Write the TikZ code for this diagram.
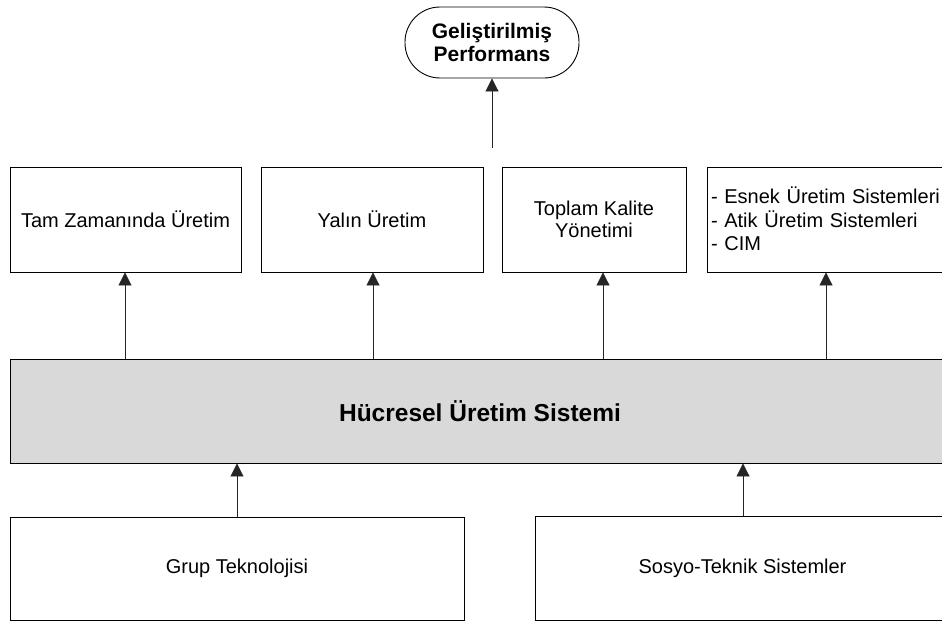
\documentclass[tikz,border=0pt]{standalone}
\usepackage{fontspec}
\setmainfont{Liberation Sans}
\usetikzlibrary{arrows.meta}
\begin{document}
\begin{tikzpicture}[x=1pt,y=-1pt,
  box/.style={draw=black,line width=0.9pt,rectangle,inner sep=0pt,
    font=\fontsize{20}{23}\selectfont,align=center},
  arr/.style={draw=black!85,line width=0.9pt,-{Triangle[length=13pt,width=13pt]}},
  goal/.style={draw=black,line width=0.9pt,rectangle,rounded corners=35pt,
    inner sep=0pt,minimum width=174pt,minimum height=71pt,
    font=\fontsize{21}{23}\selectfont\bfseries,align=center}]
\clip (0,0) rectangle (942,621);
\fill[white] (0,0) rectangle (942,621);

% result
\node[goal] (perf) at (492,42.5) {Geliştirilmiş\\Performans};
\coordinate (perfsrc) at (492,148);

% approaches fed by cellular manufacturing
\node[box,minimum width=231pt,minimum height=105pt] (jit) at (125.5,219.5)
  {\raisebox{-7.5pt}[0pt][0pt]{Tam Zamanında Üretim}};
\node[box,minimum width=222pt,minimum height=105pt] (lean) at (372,219.5)
  {\raisebox{-7.5pt}[0pt][0pt]{Yalın Üretim}};
\node[box,minimum width=184pt,minimum height=105pt] (tqm) at (594,219.5)
  {\raisebox{-7.5pt}[0pt][0pt]{\begin{tabular}{@{}c@{}}Toplam Kalite\\[-1pt]Yönetimi\end{tabular}}};
\node[box,minimum width=243pt,minimum height=105pt,text width=235pt,align=left] (fms) at (828.5,219.5)
  {\raisebox{-7.5pt}[0pt][0pt]{\begin{tabular}{@{}l@{}}- Esnek Üretim Sistemleri\\- Atik Üretim Sistemleri\\- CIM\end{tabular}}};

% central system
\node[box,fill=black!15,minimum width=940pt,minimum height=104pt,
  font=\fontsize{24.5}{28}\selectfont\bfseries] (cms) at (480,411) {Hücresel Üretim Sistemi};

% foundations
\node[box,minimum width=454pt,minimum height=103pt] (gt) at (237,568.5) {Grup Teknolojisi};
\node[box,minimum width=415pt,minimum height=104pt] (sts) at (742.5,568) {Sosyo-Teknik Sistemler};

% arrow positions
\coordinate (a1) at (125,0);
\coordinate (a2) at (373,0);
\coordinate (a3) at (603,0);
\coordinate (a4) at (826,0);
\coordinate (b1) at (237,0);
\coordinate (b2) at (743,0);

\draw[arr] (perfsrc) -- (perf.south);
\draw[arr] (cms.north -| a1) -- (jit.south -| a1);
\draw[arr] (cms.north -| a2) -- (lean.south -| a2);
\draw[arr] (cms.north -| a3) -- (tqm.south -| a3);
\draw[arr] (cms.north -| a4) -- (fms.south -| a4);
\draw[arr] (gt.north -| b1) -- (cms.south -| b1);
\draw[arr] (sts.north -| b2) -- (cms.south -| b2);
\end{tikzpicture}
\end{document}
